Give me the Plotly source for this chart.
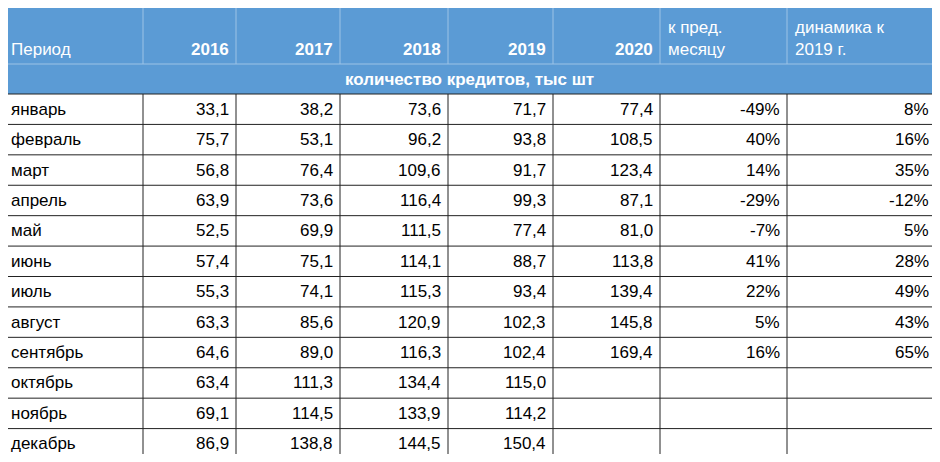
import plotly.graph_objects as go

months = ["январь", "февраль", "март", "апрель", "май", "июнь", "июль",
          "август", "сентябрь", "октябрь", "ноябрь", "декабрь"]
v2016 = [33.1, 75.7, 56.8, 63.9, 52.5, 57.4, 55.3, 63.3, 64.6, 63.4, 69.1, 86.9]
v2017 = [38.2, 53.1, 76.4, 73.6, 69.9, 75.1, 74.1, 85.6, 89.0, 111.3, 114.5, 138.8]
v2018 = [73.6, 96.2, 109.6, 116.4, 111.5, 114.1, 115.3, 120.9, 116.3, 134.4, 133.9, 144.5]
v2019 = [71.7, 93.8, 91.7, 99.3, 77.4, 88.7, 93.4, 102.3, 102.4, 115.0, 114.2, 150.4]
v2020 = [77.4, 108.5, 123.4, 87.1, 81.0, 113.8, 139.4, 145.8, 169.4]
mom = [-49, 40, 14, -29, -7, 41, 22, 5, 16]
yoy = [8, 16, 35, -12, 5, 28, 49, 43, 65]
headers = ["Период", "2016", "2017", "2018", "2019", "2020", "к пред.<br>месяцу", "динамика к<br>2019 г."]
subtitle = "количество кредитов, тыс шт"

col_x = [3, 143, 236, 340, 448, 553, 660, 787, 936]
head_top, head_bot, sub_bot = 3, 64, 94
row_h = (459 - sub_bot) / len(months)
blue = "#5B9BD5"
font = "Liberation Sans"
fs = 17

# the page puts the figure 8px in from the top left corner
off = 8

fig = go.Figure()
shapes = []
ann = []

# header
shapes.append(dict(type="rect", x0=col_x[0], x1=col_x[-1], y0=head_top, y1=sub_bot,
                   fillcolor=blue, line=dict(width=0), layer="below"))
for x in col_x[1:-1]:
    shapes.append(dict(type="line", x0=x, x1=x, y0=head_top, y1=head_bot,
                       line=dict(color="#9DC3E6", width=1)))
shapes.append(dict(type="line", x0=col_x[0], x1=col_x[-1], y0=head_bot, y1=head_bot,
                   line=dict(color="#9DC3E6", width=1)))
for i, h in enumerate(headers):
    bold = 1 <= i <= 5
    if i == 0 or i >= 6:
        x, anchor = col_x[i] + 6, "left"
    else:
        x, anchor = col_x[i + 1] - 5, "right"
    ann.append(dict(x=x, y=head_bot - 3, text=f"<b>{h}</b>" if bold else h,
                    xanchor=anchor, yanchor="bottom", align="left", showarrow=False,
                    font=dict(color="white", size=fs, family=font)))
ann.append(dict(x=(col_x[0] + col_x[-1]) / 2, y=(head_bot + sub_bot) / 2, text=f"<b>{subtitle}</b>",
                showarrow=False, font=dict(color="white", size=fs, family=font)))

# body grid
n = len(months)
for r in range(n + 1):
    y = sub_bot + r * row_h
    shapes.append(dict(type="line", x0=col_x[0], x1=col_x[-1], y0=y, y1=y,
                       line=dict(color="#222", width=1)))
for x in col_x:
    shapes.append(dict(type="line", x0=x, x1=x, y0=sub_bot, y1=sub_bot + n * row_h,
                       line=dict(color="#222", width=1)))
shapes.append(dict(type="rect", x0=col_x[0], x1=col_x[-1], y0=head_top, y1=sub_bot + n * row_h,
                   line=dict(color="#222", width=1)))


def cell(ci, r, text, left=False):
    yc = sub_bot + (r + 0.5) * row_h
    x = col_x[ci] + 6 if left else col_x[ci + 1] - 5
    ann.append(dict(x=x, y=yc, text=text, xanchor="left" if left else "right",
                    showarrow=False, font=dict(color="black", size=fs, family=font)))


def fmt(v):
    return f"{v:.1f}".replace(".", ",")


for r, m in enumerate(months):
    cell(0, r, m, left=True)
    for ci, s in enumerate([v2016, v2017, v2018, v2019, v2020], start=1):
        if r < len(s):
            cell(ci, r, fmt(s[r]))
    if r < len(mom):
        cell(6, r, f"{mom[r]}%")
        cell(7, r, f"{yoy[r]}%")

fig.update_layout(width=940 - 2 * off, height=462 - 2 * off, margin=dict(l=0, r=0, t=0, b=0),
                  plot_bgcolor="white", paper_bgcolor="white",
                  xaxis=dict(range=[off, 940 - off], visible=False, fixedrange=True),
                  yaxis=dict(range=[462 - off, off], visible=False, fixedrange=True),
                  shapes=shapes, annotations=ann, showlegend=False)
fig.write_html("out.html")
